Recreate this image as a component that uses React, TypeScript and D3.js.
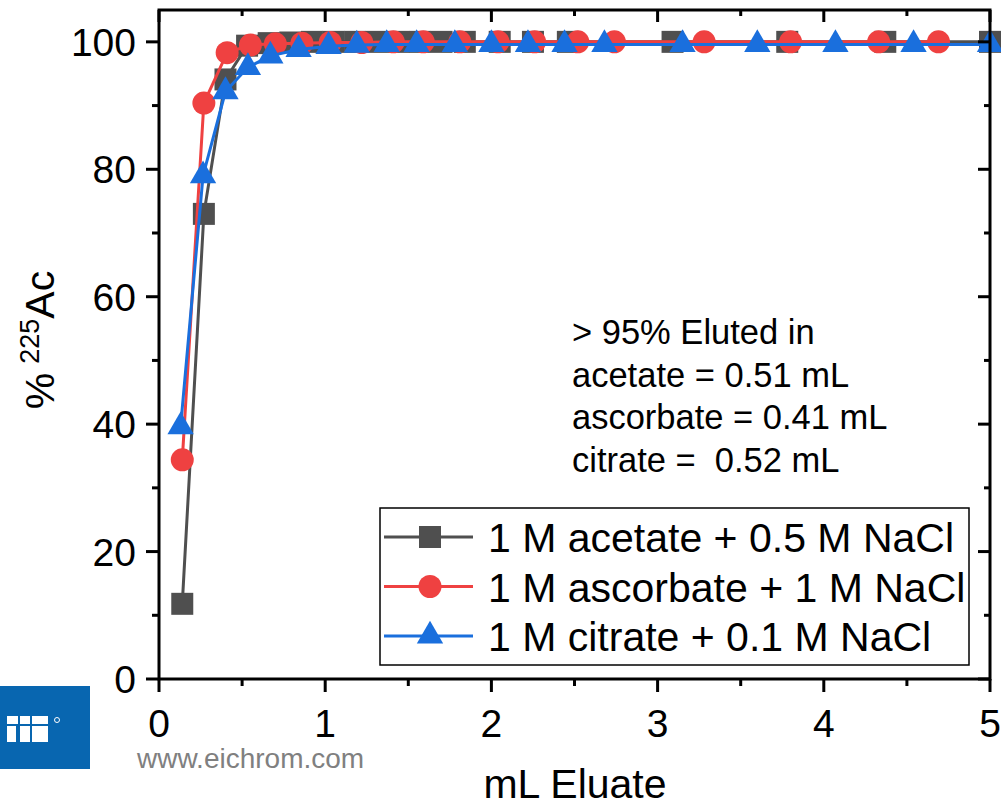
import React from 'react';
import * as d3 from 'd3';

// volume eluted (mL) and % 225Ac for each eluent
const acetateX = [0.14, 0.27, 0.40, 0.53, 0.66, 0.79, 0.92, 1.05, 1.18, 1.31, 1.44, 1.57, 1.70, 1.84, 2.05, 2.25, 2.46, 3.09, 3.78, 4.37, 5.0];
const acetateY = [11.8, 73, 94.1, 99.4, 99.8, 99.9, 100, 100, 100, 100, 100, 100, 100, 100, 100, 100, 100, 100, 100, 100, 100];

const ascorbateX = [0.14, 0.27, 0.41, 0.55, 0.70, 0.86, 1.03, 1.22, 1.41, 1.59, 1.81, 2.04, 2.26, 2.52, 2.74, 3.28, 3.80, 4.33, 4.69];
const ascorbateY = [34.4, 90.4, 98.3, 99.5, 99.7, 99.8, 99.9, 99.9, 100, 100, 100, 100, 100, 100, 100, 100, 100, 100, 100];

const citrateX = [0.13, 0.265, 0.40, 0.535, 0.67, 0.84, 1.02, 1.19, 1.37, 1.55, 1.78, 2.0, 2.22, 2.44, 2.68, 3.15, 3.6, 4.07, 4.54, 5.0];
const citrateY = [39.6, 79, 92.2, 96, 97.8, 98.8, 99.3, 99.5, 99.6, 99.6, 99.6, 99.6, 99.6, 99.6, 99.6, 99.6, 99.6, 99.6, 99.6, 99.6];

const seriesNames = ['1 M acetate + 0.5 M NaCl', '1 M ascorbate + 1 M NaCl', '1 M citrate + 0.1 M NaCl'];
const xTicks = [0, 1, 2, 3, 4, 5];
const yTicks = [0, 20, 40, 60, 80, 100];
const noteLines = ['> 95% Eluted in', 'acetate = 0.51 mL', 'ascorbate = 0.41 mL', 'citrate =  0.52 mL'];

const FONT = 'Liberation Sans, Arial, sans-serif';

export default function App() {
  const left = 159, right = 990, top = 10, bottom = 679;
  const x = d3.scaleLinear().domain([0, 5]).range([left, right]);
  const y = d3.scaleLinear().domain([0, 105]).range([bottom, top]);

  const series = [
    { name: seriesNames[0], xs: acetateX, ys: acetateY, color: '#4f4f4f', shape: 'square' },
    { name: seriesNames[1], xs: ascorbateX, ys: ascorbateY, color: '#ef4141', shape: 'circle' },
    { name: seriesNames[2], xs: citrateX, ys: citrateY, color: '#1a6fdd', shape: 'triangle' },
  ];

  const line = d3.line<[number, number]>().x(d => x(d[0])).y(d => y(d[1]));
  const sym = {
    square: d3.symbol().type(d3.symbolSquare).size(22 * 22)(),
    circle: d3.symbol().type(d3.symbolCircle).size(Math.PI * 11.5 * 11.5)(),
    triangle: d3.symbol().type(d3.symbolTriangle).size(300)(),
  } as Record<string, string>;

  const xMinor = d3.range(0.5, 5, 1);
  const yMinor = d3.range(10, 105, 20);

  return (
    <svg width={1001} height={804} style={{ position: 'absolute', left: 0, top: 0, background: '#fff' }} fontFamily={FONT}>
      {/* series */}
      {series.map(s => {
        const pts = s.xs.map((v, i) => [v, s.ys[i]] as [number, number]);
        return (
          <g key={s.name}>
            <path d={line(pts) || ''} fill="none" stroke={s.color} strokeWidth={3} />
            {pts.map((p, i) => (
              <path key={i} d={sym[s.shape]} transform={`translate(${x(p[0])},${y(p[1])})`} fill={s.color} />
            ))}
          </g>
        );
      })}

      {/* frame */}
      <rect x={left} y={top} width={right - left} height={bottom - top} fill="none" stroke="#000" strokeWidth={3} />

      {/* bottom & top ticks */}
      {xTicks.map(t => (
        <g key={'xt' + t}>
          <line x1={x(t)} x2={x(t)} y1={bottom} y2={bottom + 13} stroke="#000" strokeWidth={3} />
          <line x1={x(t)} x2={x(t)} y1={top} y2={top + 12} stroke="#000" strokeWidth={3} />
          <text x={x(t)} y={737} fontSize={39} textAnchor="middle">{t}</text>
        </g>
      ))}
      {xMinor.map(t => (
        <g key={'xm' + t}>
          <line x1={x(t)} x2={x(t)} y1={bottom} y2={bottom + 7} stroke="#000" strokeWidth={3} />
          <line x1={x(t)} x2={x(t)} y1={top} y2={top + 6} stroke="#000" strokeWidth={3} />
        </g>
      ))}

      {/* left & right ticks */}
      {yTicks.map(t => (
        <g key={'yt' + t}>
          <line x1={left - 13} x2={left} y1={y(t)} y2={y(t)} stroke="#000" strokeWidth={3} />
          <line x1={right - 12} x2={right} y1={y(t)} y2={y(t)} stroke="#000" strokeWidth={3} />
          <text x={136} y={y(t) + 14} fontSize={39} textAnchor="end">{t}</text>
        </g>
      ))}
      {yMinor.map(t => (
        <g key={'ym' + t}>
          <line x1={left - 7} x2={left} y1={y(t)} y2={y(t)} stroke="#000" strokeWidth={3} />
          <line x1={right - 6} x2={right} y1={y(t)} y2={y(t)} stroke="#000" strokeWidth={3} />
        </g>
      ))}

      {/* axis titles */}
      <text x={575} y={798} fontSize={41} textAnchor="middle">mL Eluate</text>
      <text transform="translate(54,340) rotate(-90)" fontSize={41} textAnchor="middle">
        %<tspan dx={9} dy={-15} fontSize={27}>225</tspan><tspan dy={15}>Ac</tspan>
      </text>

      {/* note */}
      {noteLines.map((l, i) => (
        <text key={l} x={572} y={344 + i * 42.5} fontSize={34.5} style={{ whiteSpace: 'pre' }}>{l}</text>
      ))}

      {/* legend */}
      <rect x={380} y={508} width={589} height={157} fill="#fff" stroke="#000" strokeWidth={1.5} />
      {series.map((s, i) => {
        const ly = 537 + i * 49.5;
        return (
          <g key={'lg' + i}>
            <line x1={384} x2={473} y1={ly} y2={ly} stroke={s.color} strokeWidth={3} />
            <path d={sym[s.shape]} transform={`translate(430,${ly})`} fill={s.color} />
            <text x={488} y={ly + 15} fontSize={41}>{s.name}</text>
          </g>
        );
      })}

      {/* logo */}
      <rect x={0} y={686} width={90} height={83} fill="#0866b0" />
      <g fill="#fff">
        <rect x={7} y={716} width={41} height={8} />
        <rect x={7} y={726} width={9} height={16} />
        <rect x={18} y={726} width={12} height={16} />
        <rect x={32} y={726} width={16} height={16} />
        <rect x={18} y={716} width={2} height={26} fill="#0866b0" />
        <rect x={30} y={716} width={2} height={26} fill="#0866b0" />
      </g>
      <circle cx={57} cy={720} r={2.5} fill="none" stroke="#fff" strokeWidth={1} />
      <text x={137} y={768} fontSize={28} fill="#808080">www.eichrom.com</text>
    </svg>
  );
}
